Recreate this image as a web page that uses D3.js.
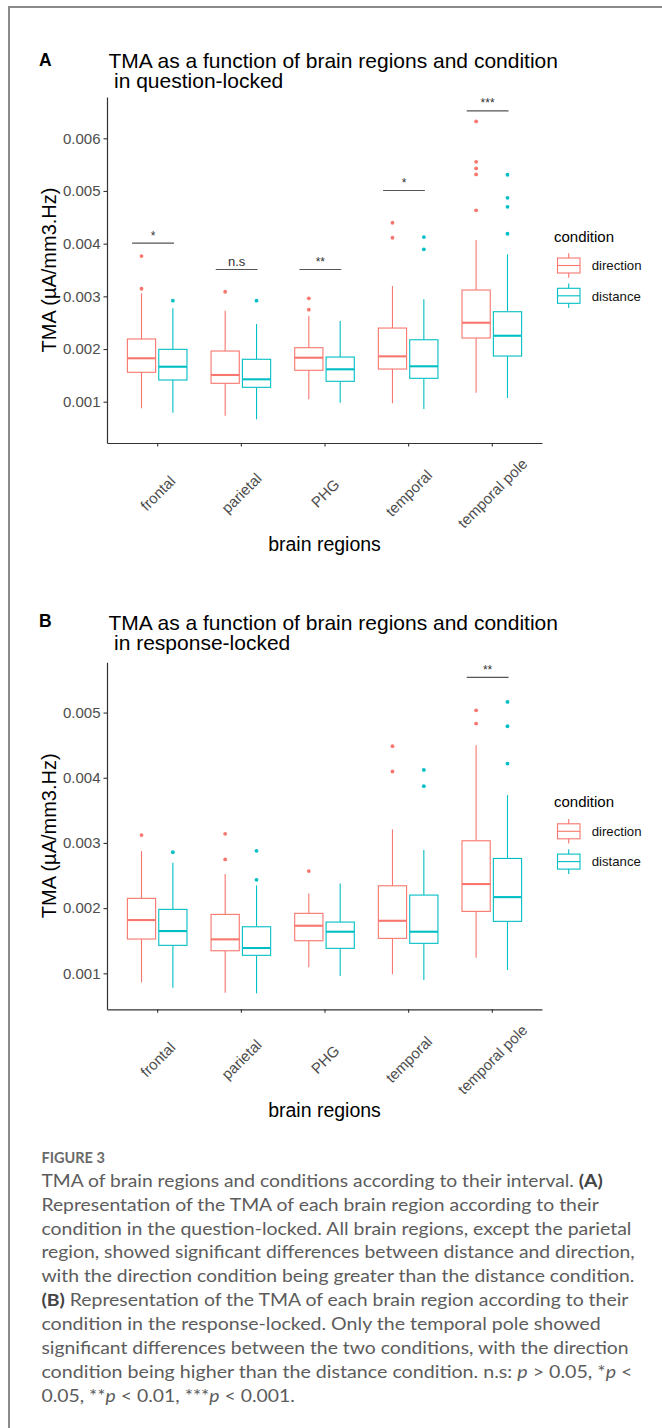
<!DOCTYPE html>
<html>
<head>
<meta charset="utf-8">
<script src="https://cdn.jsdelivr.net/npm/d3@7"></script>
<style>
  html, body { margin: 0; padding: 0; background: #fff; }
  text { font-family: "Liberation Sans", Arial, sans-serif; }
  .cap { font-family: Lato, "Open Sans", sans-serif; }
</style>
</head>
<body>
<div id="container"></div>
<script>
let w = 662;
let h = 1428;

let regions = ["frontal", "parietal", "PHG", "temporal", "temporal pole"];
let conditions = ["direction", "distance"];
let condColors = ["#F8766D", "#00BFC4"];

// A: question-locked. each row = [lower whisker, q1, median, q3, upper whisker]
let qDirection = [
  [0.000875, 0.001558, 0.001824, 0.002190, 0.003057],
  [0.000734, 0.001349, 0.001507, 0.001962, 0.002727],
  [0.001046, 0.001596, 0.001835, 0.002025, 0.002626],
  [0.000970, 0.001620, 0.001861, 0.002398, 0.003195],
  [0.001171, 0.002209, 0.002499, 0.003120, 0.004068]
];
let qDistance = [
  [0.000791, 0.001412, 0.001664, 0.001994, 0.002772],
  [0.000666, 0.001273, 0.001425, 0.001805, 0.002474],
  [0.000981, 0.001387, 0.001615, 0.001848, 0.002531],
  [0.000861, 0.001444, 0.001672, 0.002176, 0.002943],
  [0.001070, 0.001867, 0.002252, 0.002708, 0.003797]
];
let qDirectionOut = [
  [0.003765, 0.003144],
  [0.003087],
  [0.002962, 0.002746],
  [0.004397, 0.004112],
  [0.006321, 0.005554, 0.005429, 0.005315, 0.004632]
];
let qDistanceOut = [
  [0.002917],
  [0.002917],
  [],
  [0.004125, 0.003892],
  [0.005308, 0.004871, 0.004700, 0.004188]
];
let qSignif = ["*", "n.s", "**", "*", "***"];
let qSignifY = [0.00401, 0.00351, 0.00351, 0.00501, 0.00652];
let qTicks = [0.001, 0.002, 0.003, 0.004, 0.005, 0.006];
let qDomain = [0.000216, 0.006784];

// B: response-locked
let rDirection = [
  [0.000862, 0.001526, 0.001817, 0.002150, 0.002874],
  [0.000703, 0.001346, 0.001521, 0.001904, 0.002522],
  [0.001092, 0.001500, 0.001730, 0.001920, 0.002226],
  [0.000985, 0.001536, 0.001806, 0.002343, 0.003207],
  [0.001239, 0.001950, 0.002369, 0.003033, 0.004499]
];
let rDistance = [
  [0.000779, 0.001429, 0.001648, 0.001981, 0.002695],
  [0.000693, 0.001276, 0.001388, 0.001714, 0.002349],
  [0.000959, 0.001383, 0.001638, 0.001786, 0.002379],
  [0.000897, 0.001460, 0.001638, 0.002200, 0.002890],
  [0.001051, 0.001797, 0.002169, 0.002762, 0.003733]
];
let rDirectionOut = [
  [0.003120],
  [0.003140, 0.002747],
  [0.002568],
  [0.004484, 0.004096],
  [0.005035, 0.004831]
];
let rDistanceOut = [
  [0.002859],
  [0.002879, 0.002434],
  [],
  [0.004120, 0.003870],
  [0.005163, 0.004790, 0.004218]
];
let rSignif = [null, null, null, null, "**"];
let rSignifY = [null, null, null, null, 0.00554];
let rTicks = [0.001, 0.002, 0.003, 0.004, 0.005];
let rDomain = [0.000448, 0.005771];

let captionLines = [
  [["TMA of brain regions and conditions according to their interval. ", ""], ["(A)", "b"]],
  [["Representation of the TMA of each brain region according to their", ""]],
  [["condition in the question-locked. All brain regions, except the parietal", ""]],
  [["region, showed significant differences between distance and direction,", ""]],
  [["with the direction condition being greater than the distance condition.", ""]],
  [["(B)", "b"], [" Representation of the TMA of each brain region according to their", ""]],
  [["condition in the response-locked. Only the temporal pole showed", ""]],
  [["significant differences between the two conditions, with the direction", ""]],
  [["condition being higher than the distance condition. n.s: ", ""], ["p", "i"], [" > 0.05, *", ""], ["p", "i"], [" <", ""]],
  [["0.05, **", ""], ["p", "i"], [" < 0.01, ***", ""], ["p", "i"], [" < 0.001.", ""]]
];
let captionEnds = [603, 599, 632, 635, 635, 629, 601, 629, 633, 295];

let viz = d3.select("#container")
  .append("svg")
    .attr("width", w)
    .attr("height", h)
;

// page frame
viz.append("line").attr("x1", 9).attr("x2", 9).attr("y1", 7).attr("y2", h)
  .attr("stroke", "#8a8a8a").attr("stroke-width", 2);
viz.append("line").attr("x1", 8).attr("x2", w).attr("y1", 7).attr("y2", 7)
  .attr("stroke", "#8a8a8a").attr("stroke-width", 2);

function drawPanel(p){
  let g = viz.append("g");
  let x = d3.scalePoint().domain(regions).range([107, 542]).padding(0.6);
  let step = x.step();
  let y = d3.scaleLinear().domain(p.domain).range([p.bottom, p.top]);
  let mid = (p.top + p.bottom) / 2;

  // titles
  g.append("text").text(p.letter)
    .attr("x", 39).attr("y", p.letterY)
    .attr("font-size", 17.5).attr("font-weight", "bold").attr("fill", "#000");
  g.append("text").text(p.title1)
    .attr("x", 108.5).attr("y", p.titleY)
    .attr("font-size", 21).attr("fill", "#000");
  g.append("text").text(p.title2)
    .attr("x", 114).attr("y", p.titleY + 20.5)
    .attr("font-size", 21).attr("fill", "#000");

  // axes
  let yAxis = d3.axisLeft(y).tickValues(p.ticks).tickSize(3.5).tickSizeOuter(0)
    .tickPadding(3).tickFormat(d3.format(".3f"));
  let ya = g.append("g").attr("transform", "translate(107,0)").call(yAxis);
  ya.selectAll("text").attr("font-size", 15).attr("fill", "#4d4d4d")
    .attr("font-family", "Liberation Sans, Arial, sans-serif");

  let xAxis = d3.axisBottom(x).tickSize(3.5).tickSizeOuter(0);
  let xa = g.append("g").attr("transform", "translate(0," + p.bottom + ")").call(xAxis);
  xa.selectAll("text")
    .attr("y", null).attr("dy", null)
    .attr("transform", "translate(0,50) rotate(-45)")
    .attr("text-anchor", "middle")
    .attr("dominant-baseline", "central")
    .attr("font-size", 15).attr("fill", "#4d4d4d")
    .attr("font-family", "Liberation Sans, Arial, sans-serif");

  g.selectAll(".domain").attr("stroke", "#333").attr("stroke-width", 1.2);
  g.selectAll(".tick line").attr("stroke", "#333").attr("stroke-width", 1.1);

  g.append("text").text("TMA (µA/mm3.Hz)")
    .attr("transform", "translate(55.5," + mid + ") rotate(-90)")
    .attr("text-anchor", "middle").attr("font-size", 20).attr("fill", "#000");
  g.append("text").text("brain regions")
    .attr("x", 324.5).attr("y", p.bottom + 108)
    .attr("text-anchor", "middle").attr("font-size", 19.5).attr("fill", "#000");

  // boxes
  let sets = [[p.dir, p.dirOut], [p.dist, p.distOut]];
  sets.forEach(function(s, ci){
    let col = condColors[ci];
    let off = (ci == 0 ? -1 : 1) * 0.1875 * step;
    let hw = 0.3375 * step / 2;
    let bg = g.append("g").attr("class", "boxes-" + conditions[ci]);
    let groups = bg.selectAll("g").data(s[0]).enter().append("g")
      .attr("transform", function(d, i){ return "translate(" + (x(regions[i]) + off) + ",0)"; });
    groups.append("line")
      .attr("x1", 0).attr("x2", 0)
      .attr("y1", function(d){ return y(d[4]); })
      .attr("y2", function(d){ return y(d[3]); })
      .attr("stroke", col).attr("stroke-width", 1.1);
    groups.append("line")
      .attr("x1", 0).attr("x2", 0)
      .attr("y1", function(d){ return y(d[1]); })
      .attr("y2", function(d){ return y(d[0]); })
      .attr("stroke", col).attr("stroke-width", 1.1);
    groups.append("rect")
      .attr("x", -hw).attr("width", 2 * hw)
      .attr("y", function(d){ return y(d[3]); })
      .attr("height", function(d){ return y(d[1]) - y(d[3]); })
      .attr("fill", "#fff").attr("stroke", col).attr("stroke-width", 1.1);
    groups.append("line")
      .attr("x1", -hw).attr("x2", hw)
      .attr("y1", function(d){ return y(d[2]); })
      .attr("y2", function(d){ return y(d[2]); })
      .attr("stroke", col).attr("stroke-width", 2.1);
    groups.each(function(d, i){
      d3.select(this).selectAll("circle").data(s[1][i]).enter().append("circle")
        .attr("cx", 0).attr("cy", function(v){ return y(v); })
        .attr("r", 1.9).attr("fill", col);
    });
  });

  // significance brackets
  regions.forEach(function(r, i){
    if (p.sig[i] == null) return;
    let yy = y(p.sigY[i]);
    g.append("line")
      .attr("x1", x(r) - 0.3 * step).attr("x2", x(r) + 0.2 * step)
      .attr("y1", yy).attr("y2", yy)
      .attr("stroke", "#555").attr("stroke-width", 1.1);
    g.append("text").text(p.sig[i])
      .attr("x", x(r) - 0.05 * step).attr("y", yy - 3.5)
      .attr("text-anchor", "middle")
      .attr("font-size", p.sig[i] == "n.s" ? 13 : 12)
      .attr("fill", "#333");
  });

  // legend
  let lg = g.append("g");
  lg.append("text").text("condition")
    .attr("x", 554).attr("y", mid - 28.5)
    .attr("font-size", 15).attr("fill", "#000");
  conditions.forEach(function(c, ci){
    let cy = mid - 4.5 + ci * 30.3;
    let col = condColors[ci];
    lg.append("line").attr("x1", 568.7).attr("x2", 568.7)
      .attr("y1", cy - 12.3).attr("y2", cy + 12.3)
      .attr("stroke", col).attr("stroke-width", 1.1);
    lg.append("rect").attr("x", 557.5).attr("width", 22.5)
      .attr("y", cy - 7.5).attr("height", 15)
      .attr("fill", "#fff").attr("stroke", col).attr("stroke-width", 1.1);
    lg.append("line").attr("x1", 557.5).attr("x2", 580)
      .attr("y1", cy).attr("y2", cy)
      .attr("stroke", col).attr("stroke-width", 1.1);
    lg.append("text").text(c)
      .attr("x", 591.7).attr("y", cy + 4.8)
      .attr("font-size", 13.2).attr("fill", "#111");
  });
}

drawPanel({
  letter: "A", letterY: 65.7,
  title1: "TMA as a function of brain regions and condition",
  title2: "in question-locked",
  titleY: 67.5, top: 97, bottom: 443,
  domain: qDomain, ticks: qTicks,
  dir: qDirection, dist: qDistance, dirOut: qDirectionOut, distOut: qDistanceOut,
  sig: qSignif, sigY: qSignifY
});

drawPanel({
  letter: "B", letterY: 627,
  title1: "TMA as a function of brain regions and condition",
  title2: "in response-locked",
  titleY: 629.5, top: 662.3, bottom: 1009.3,
  domain: rDomain, ticks: rTicks,
  dir: rDirection, dist: rDistance, dirOut: rDirectionOut, distOut: rDistanceOut,
  sig: rSignif, sigY: rSignifY
});

// caption
viz.append("text").text("FIGURE 3")
  .attr("class", "cap")
  .attr("x", 41.5).attr("y", 1162.5)
  .attr("font-size", 14.5).attr("font-weight", "bold").attr("fill", "#6a6a6a");

captionLines.forEach(function(parts, li){
  let t = viz.append("text").attr("class", "cap")
    .attr("x", 0).attr("y", 0)
    .attr("font-size", 16.5).attr("fill", "#5c5c5c");
  parts.forEach(function(pt){
    let ts = t.append("tspan").text(pt[0]);
    if (pt[1] == "b") ts.attr("font-weight", "bold").attr("fill", "#444");
    if (pt[1] == "i") ts.attr("font-style", "italic");
  });
  let nat = t.node().getComputedTextLength();
  let sx = (captionEnds[li] - 41.4) / nat;
  t.attr("transform", "translate(41.4," + (1186.7 + li * 23.9) + ") scale(" + sx + ",1)");
});
</script>
</body>
</html>
